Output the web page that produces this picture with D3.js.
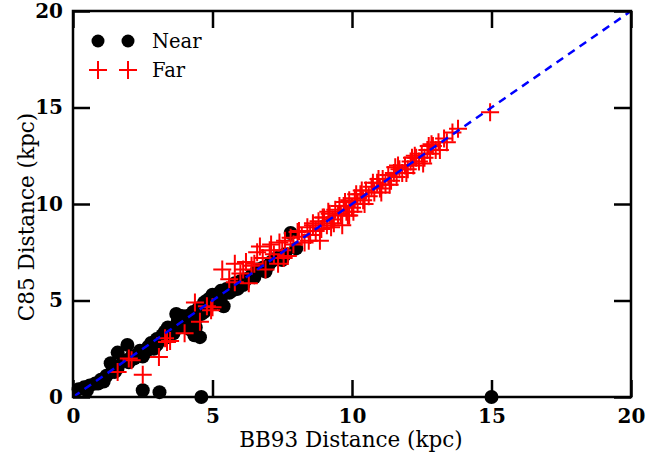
<!DOCTYPE html>
<html>
<head>
<meta charset="utf-8">
<script src="https://cdn.jsdelivr.net/npm/d3@7"></script>
<style>
  body { margin: 0; background: #fff; }
  text { font-family: "DejaVu Serif", serif; }
</style>
</head>
<body>
<svg></svg>
<script>
const width = 671, height = 458;
const svg = d3.select("svg").attr("width", width).attr("height", height);

// Near sample (BB93, C85) in kpc
const nearX = [0.2, 0.4, 0.6, 0.8, 1.0, 1.1, 1.2, 1.4, 1.35, 1.6, 1.6, 1.8, 1.95, 2.0, 2.1, 2.3, 2.4, 2.6, 2.7, 2.8,
  2.9, 3.0, 3.1, 3.2, 3.3, 3.4, 3.5, 3.6, 3.7, 3.75, 3.8, 3.9, 4.0, 4.1, 4.2, 4.3, 4.35, 4.4, 4.5, 4.55,
  4.6, 4.7, 4.8, 4.9, 5.0, 5.1, 5.2, 5.3, 5.4, 5.5, 5.6, 5.8, 6.0, 6.2, 6.4, 6.6, 6.8, 7.1, 7.3, 7.6,
  7.8, 8.0, 0.5, 0.9, 1.5, 2.2, 2.5, 3.0, 3.4, 3.9, 4.2, 4.4, 4.7, 5.0, 5.3, 5.7, 5.9, 6.1, 6.5, 6.9,
  7.0, 7.5, 2.5, 3.1, 4.6, 15.0];
const nearY = [0.4, 0.5, 0.6, 0.7, 0.9, 0.8, 1.1, 1.3, 1.75, 1.5, 2.3, 1.9, 2.7, 1.8, 2.1, 2.2, 2.4, 2.3, 2.6, 2.8,
  2.5, 3.0, 2.9, 3.2, 3.4, 3.1, 3.5, 3.3, 4.3, 3.9, 3.6, 4.0, 3.8, 4.2, 3.5, 4.4, 3.2, 4.0, 4.6, 3.1,
  4.3, 4.9, 5.0, 5.1, 4.8, 5.3, 5.0, 5.5, 4.7, 5.6, 5.4, 5.9, 6.0, 6.1, 6.3, 6.6, 6.7, 7.0, 7.2, 7.4,
  8.5, 7.7, 0.35, 0.7, 1.3, 2.0, 2.1, 2.7, 3.6, 4.2, 3.9, 3.6, 4.4, 5.3, 5.1, 5.5, 5.6, 5.8, 6.2, 6.5,
  6.8, 7.1, 0.35, 0.25, 0.0, 0.0];

// Far sample (BB93, C85) in kpc
const farX = [1.6, 2.0, 2.5, 2.1, 3.08, 3.37, 3.48, 3.3, 4.0, 4.37, 4.55, 4.8, 5.0, 4.95, 5.35, 5.8, 5.8, 6.3, 6.2, 5.6,
  6.0, 6.1, 6.4, 6.6, 6.5, 6.8, 7.05, 6.9, 7.35, 7.2, 7.4, 7.5, 7.6, 7.8, 7.9, 8.05, 8.2, 8.4, 8.5, 8.6,
  8.85, 8.8, 8.9, 9.0, 9.1, 9.2, 9.3, 9.4, 9.5, 9.65, 9.7, 9.8, 9.9, 10.0, 10.1, 10.2, 10.3, 10.4, 10.5, 10.6,
  10.7, 10.8, 10.9, 11.0, 11.1, 11.2, 11.3, 11.4, 11.5, 11.6, 11.7, 11.8, 11.9, 12.0, 12.1, 12.2, 12.3, 12.4, 12.5, 12.6,
  12.7, 12.8, 12.9, 13.0, 13.1, 13.3, 13.4, 13.6, 13.8, 14.95, 8.3, 8.7, 9.35, 9.6, 7.7, 10.05, 9.9,
  8.1, 8.45, 8.95, 9.25, 9.55, 9.85, 10.15, 10.45, 10.75, 11.05, 11.35, 11.65, 11.95, 12.25, 12.55, 12.85, 13.15,
  8.6, 9.15, 9.75, 10.35, 10.95, 11.55, 12.15, 12.75, 7.1, 7.55, 6.7];
const farY = [1.3, 2.0, 1.15, 1.9, 2.07, 2.85, 2.9, 3.05, 3.3, 4.9, 3.9, 4.7, 4.65, 4.5, 6.6, 6.9, 5.95, 5.9, 7.0, 6.1,
  6.4, 6.6, 6.8, 7.5, 6.9, 7.2, 7.6, 6.6, 6.9, 7.4, 8.0, 7.6, 8.1, 8.25, 7.9, 8.55, 8.3, 8.8, 8.4, 9.0,
  8.1, 9.1, 8.7, 9.3, 8.9, 9.5, 9.2, 9.7, 9.4, 8.9, 9.9, 9.6, 10.2, 9.8, 10.3, 10.0, 10.5, 10.2, 10.7, 10.4,
  10.9, 10.6, 11.1, 10.8, 11.3, 11.0, 11.5, 11.2, 11.6, 11.4, 11.8, 11.6, 12.0, 11.8, 12.2, 12.0, 12.4, 12.2, 12.6, 12.4,
  12.8, 12.6, 13.0, 12.8, 13.2, 13.4, 13.2, 13.7, 13.9, 14.75, 8.0, 8.6, 9.0, 9.5, 7.3, 9.6, 9.4,
  8.6, 8.1, 9.3, 8.8, 9.9, 9.4, 10.5, 10.0, 11.1, 10.6, 11.0, 12.0, 11.6, 12.5, 12.1, 13.1, 12.8,
  8.9, 9.6, 10.1, 10.7, 11.3, 11.9, 12.4, 13.0, 7.9, 7.2, 7.8];

const tickVals = [0, 5, 10, 15, 20];
const legendLabels = ["Near", "Far"];

const m = { left: 73, right: 631, top: 11, bottom: 397 };
const x = d3.scaleLinear().domain([0, 20]).range([m.left, m.right]);
const y = d3.scaleLinear().domain([0, 20]).range([m.bottom, m.top]);

const near = nearX.map((v, i) => ({ x: v, y: nearY[i] }));
const far = farX.map((v, i) => ({ x: v, y: farY[i] }));

svg.append("g").selectAll("circle")
  .data(near)
  .enter().append("circle")
  .attr("cx", d => x(d.x))
  .attr("cy", d => y(d.y))
  .attr("r", 7)
  .attr("fill", "#000");

const cross = (g, s) => g.append("path")
  .attr("d", `M${-s},0H${s}M0,${-s}V${s}`)
  .attr("stroke", "#ff0000").attr("stroke-width", 2).attr("fill", "none");

svg.append("g").selectAll("g")
  .data(far)
  .enter().append("g")
  .attr("transform", d => `translate(${x(d.x)},${y(d.y)})`)
  .each(function () { cross(d3.select(this), 9); });

// one-to-one line, on top of the points
svg.append("line")
  .attr("x1", x(0)).attr("y1", y(0)).attr("x2", x(20)).attr("y2", y(20))
  .attr("stroke", "#0000ff").attr("stroke-width", 2.5).attr("stroke-dasharray", "8,6");

// axes with inward ticks on all four sides
const fmt = d3.format("d");
const axB = svg.append("g").attr("transform", `translate(0,${m.bottom})`)
  .call(d3.axisBottom(x).tickValues(tickVals).tickSize(-17).tickPadding(9).tickFormat(fmt));
const axT = svg.append("g").attr("transform", `translate(0,${m.top})`)
  .call(d3.axisTop(x).tickValues(tickVals).tickSize(-17).tickFormat(""));
const axL = svg.append("g").attr("transform", `translate(${m.left},0)`)
  .call(d3.axisLeft(y).tickValues(tickVals).tickSize(-17).tickPadding(10).tickFormat(fmt));
const axR = svg.append("g").attr("transform", `translate(${m.right},0)`)
  .call(d3.axisRight(y).tickValues(tickVals).tickSize(-17).tickFormat(""));

[axB, axT, axL, axR].forEach(a => {
  a.select(".domain").remove();
  a.selectAll("line").attr("stroke", "#000").attr("stroke-width", 2.5);
  a.selectAll("text").attr("fill", "#000").style("font-size", "20px").style("font-weight", "bold")
    .style("font-family", "DejaVu Serif, serif");
});
axB.selectAll("text").attr("dy", "0.85em");

svg.append("rect")
  .attr("x", m.left).attr("y", m.top)
  .attr("width", m.right - m.left).attr("height", m.bottom - m.top)
  .attr("fill", "none").attr("stroke", "#000").attr("stroke-width", 2.5);

// axis titles
svg.append("text")
  .attr("x", (m.left + m.right) / 2 - 1).attr("y", 447)
  .attr("text-anchor", "middle").style("font-size", "21.5px")
  .text("BB93 Distance (kpc)");
svg.append("text")
  .attr("transform", `translate(34,${(m.top + m.bottom) / 2 + 13}) rotate(-90)`)
  .attr("text-anchor", "middle").style("font-size", "21.5px")
  .text("C85 Distance (kpc)");

// legend
const leg = svg.append("g");
[98, 128].forEach(px => {
  leg.append("circle").attr("cx", px).attr("cy", 41).attr("r", 6.5).attr("fill", "#000");
  cross(leg.append("g").attr("transform", `translate(${px},70)`), 9);
});
leg.selectAll("text.lab").data(legendLabels).enter().append("text")
  .attr("class", "lab")
  .attr("x", 152).attr("y", (d, i) => 48 + i * 29)
  .style("font-size", "19.5px")
  .text(d => d);
</script>
</body>
</html>
